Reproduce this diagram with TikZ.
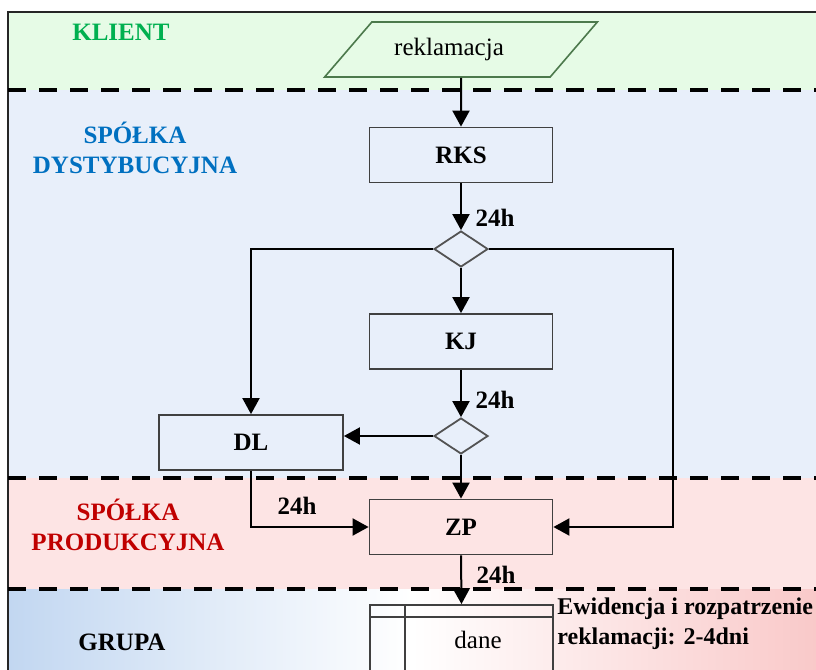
\documentclass[tikz,border=0pt]{standalone}
\usepackage{fontspec}
\setmainfont{Liberation Serif}
\usetikzlibrary{arrows.meta,shapes.geometric}
\definecolor{klientbg}{HTML}{E6FBE6}
\definecolor{dystbg}{HTML}{E8EFFA}
\definecolor{prodbg}{HTML}{FDE4E4}
\definecolor{klientfg}{HTML}{00B050}
\definecolor{dystfg}{HTML}{0070C0}
\definecolor{prodfg}{HTML}{C00000}
\definecolor{grupaleft}{HTML}{C2D7F1}
\definecolor{gruparight}{HTML}{F9C9C9}
\definecolor{edge}{HTML}{404040}
\tikzset{
  proc/.style={draw=edge, line width=0.9pt, minimum width=91.5pt, minimum height=27.5pt,
    inner sep=0pt, font=\fontsize{12.5}{15}\selectfont\bfseries},
  decision/.style={diamond, draw=edge!90, line width=0.9pt, minimum width=27pt,
    minimum height=18pt, inner sep=0pt, aspect=1.5},
  para/.style={trapezium, trapezium left angle=45, trapezium right angle=135,
    trapezium stretches=true, minimum width=137pt, minimum height=27.5pt,
    draw=green!25!black!70, line width=0.8pt, fill=klientbg, inner sep=0pt,
    font=\fontsize{12.5}{15}\selectfont},
  store/.style={draw=edge, line width=0.9pt, minimum width=91.5pt, minimum height=45pt, inner sep=0pt},
  lane/.style={align=center, font=\fontsize{12.5}{15}\selectfont\bfseries},
  lbl/.style={font=\fontsize{12.5}{15}\selectfont\bfseries, inner sep=0pt},
  flow/.style={line width=1pt, -{Triangle[length=8pt,width=8.5pt]}},
  sep/.style={line width=2pt, dash pattern=on 9pt off 6.5pt}
}
\begin{document}
\begin{tikzpicture}[x=0.5pt,y=-0.5pt]
	\useasboundingbox (0,0) rectangle (816,670);
	\clip (0,0) rectangle (816,670);
	% pasy
	\fill[klientbg] (8,12) rectangle (816,90);
	\fill[dystbg] (8,90) rectangle (816,478);
	\fill[prodbg] (8,478) rectangle (816,589);
	\shade[left color=grupaleft, right color=gruparight, middle color=white] (8,589) rectangle (816,670);
	\draw[line width=1pt, black!85] (8,12) rectangle (830,700);
	\foreach \yy in {90,478,589}
		\draw[sep] (8,\yy) -- (816,\yy);
	% nazwy pasow
	\node[lane, text=klientfg] (klient) at (121,32) {KLIENT};
	\node[lane, text=dystfg] (dyst) at (135,148) {SPÓŁKA\\DYSTYBUCYJNA};
	\node[lane, text=prodfg] (prod) at (128,525) {SPÓŁKA\\PRODUKCYJNA};
	\node[lane] (grupa) at (122,642) {GRUPA};
	% wezly
	\node[para] (rekl) at (461,49.5) {\hspace*{-12pt}reklamacja};
	\node[proc] (RKS) at (461,155) {RKS};
	\node[decision] (d1) at (461,249) {};
	\node[proc] (KJ) at (461,341.5) {KJ};
	\node[decision] (d2) at (461,436) {};
	\node[proc, minimum width=92pt] (DL) at (251,442.5) {DL};
	\node[proc] (ZP) at (461,527) {ZP};
	\node[store] (dane) at (461.5,650) {};
	\node[font=\fontsize{12.5}{15}\selectfont] (danetxt) at (478,640) {dane};
	\draw[line width=0.9pt, edge] ([yshift=-6.5pt]dane.north west) -- ([yshift=-6.5pt]dane.north east);
	\draw[line width=0.9pt, edge] ([xshift=18pt]dane.north west) -- ([xshift=18pt]dane.south west);
	\coordinate (rturn) at (673,0);
	% czasy
	\node[lbl] (t1) at (495,218) {24h};
	\node[lbl] (t2) at (495,400) {24h};
	\node[lbl] (t3) at (297,506) {24h};
	\node[lbl] (t4) at (496,575) {24h};
	\node[lbl, align=left, anchor=west, font=\fontsize{12}{15}\selectfont\bfseries] (ewid) at (557,624) {Ewidencja i rozpatrzenie\\reklamacji: 2-4dni};
	% polaczenia
	\draw[flow] (rekl.south) -- (RKS.north);
	\draw[flow] (RKS.south) -- (d1.north);
	\draw[flow] (d1.south) -- (KJ.north);
	\draw[flow] (KJ.south) -- (d2.north);
	\draw[flow] (d1.west) -| (DL.north);
	\draw[flow] (d1.east) -| (ZP.east -| rturn) -- (ZP.east);
	\draw[flow] (d2.west) -- (d2.west -| DL.east);
	\draw[flow] (d2.south) -- (ZP.north);
	\draw[flow] (DL.south) |- (ZP.west);
	\draw[flow] (ZP.south) -- (dane.north);
\end{tikzpicture}
\end{document}
